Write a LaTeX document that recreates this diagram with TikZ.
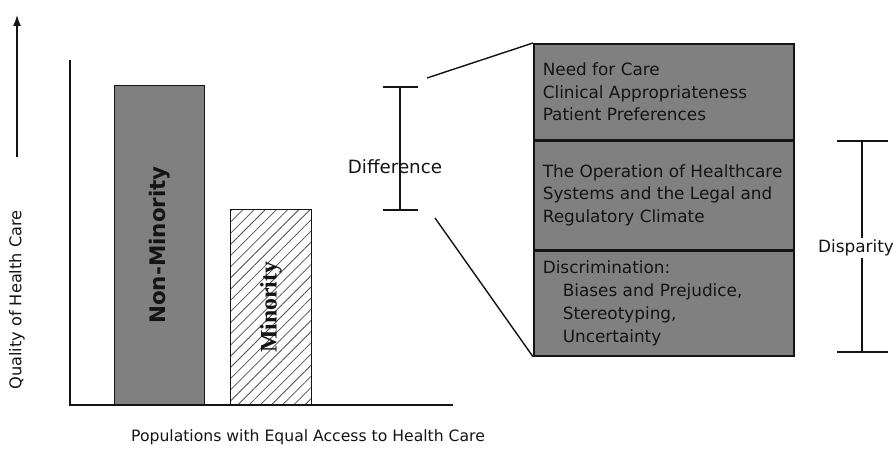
\documentclass[tikz,border=0pt]{standalone}
\usepackage{fontspec}
\setmainfont{DejaVu Sans}
\newfontfamily\barserif{Liberation Serif}
\usetikzlibrary{positioning,arrows.meta,patterns.meta}
\definecolor{hcgray}{HTML}{808080}
\definecolor{hcink}{HTML}{141414}
\tikzset{
  axis/.style   ={draw=hcink, line width=0.9pt},
  bar/.style    ={draw=hcink, line width=0.7pt, anchor=south west, inner sep=0pt},
  barlabel/.style={rotate=90, text=hcink, font=\bfseries\fontsize{12.2}{12}\selectfont},
  cause/.style  ={draw=hcink, fill=hcgray, line width=0.9pt, anchor=north west,
                  minimum width=5.2cm, text width=4.84cm, inner xsep=0.18cm,
                  inner ysep=0pt, align=flush left, text=hcink,
                  font=\fontsize{9.6}{13}\selectfont},
  brace/.style  ={draw=hcink, line width=0.8pt},
  lbl/.style    ={text=hcink, inner sep=1pt, font=\fontsize{9.2}{10}\selectfont},
}

\begin{document}
\begin{tikzpicture}[x=0.02cm, y=-0.02cm]
  \useasboundingbox (0,0) rectangle (896,475);

  % axes
  \draw[axis] (70,60) -- (70,405) -- (453,405);
  \coordinate (qtail) at (17,157);
  \coordinate (qhead) at (17,15);
  \draw[axis, -{Latex[length=2.2mm,width=1.6mm]}] (qtail) -- (qhead);
  \node[lbl, rotate=90] (ylab) at (17,300) {Quality of Health Care};
  \node[lbl, font=\fontsize{8.9}{10}\selectfont] (xlab) at (308,437) {Populations with Equal Access to Health Care};

  % the two bars
  \node[bar, fill=hcgray, minimum width=1.8cm, minimum height=6.38cm] (nonmin) at (114,405) {};
  \node[bar, pattern={Lines[angle=45,distance=4.5pt,line width=0.45pt]}, pattern color=hcink!75,
        minimum width=1.62cm, minimum height=3.9cm] (min) at (230,405) {};
  \node[barlabel] at (nonmin.center) {Non-Minority};
  \node[barlabel, font=\barserif\bfseries\fontsize{13.5}{13}\selectfont] at (min.center) {Minority};

  % difference bracket
  \coordinate (dtop) at (400,87);
  \coordinate (dbot) at (400,210);
  \draw[brace] (dtop) -- (dbot);
  \draw[brace] ([xshift=-0.34cm]dtop) -- ([xshift=0.36cm]dtop);
  \draw[brace] ([xshift=-0.34cm]dbot) -- ([xshift=0.36cm]dbot);
  \node[lbl, font=\fontsize{10.4}{11}\selectfont] (diff) at (395,167) {Difference};

  % sources of the difference
  \node[cause, minimum height=1.92cm] (need) at (533,43)
    {Need for Care\\Clinical Appropriateness\\Patient Preferences};
  \node[cause, minimum height=2.16cm, below=0pt of need.south west, anchor=north west] (system)
    {The Operation of Healthcare\\Systems and the Legal and\\Regulatory Climate};
  \node[cause, minimum height=2.1cm, below=0pt of system.south west, anchor=north west] (discr)
    {Discrimination:\\\hspace*{0.4cm}Biases and Prejudice,\\\hspace*{0.4cm}Stereotyping,\\\hspace*{0.4cm}Uncertainty};

  % zoom lines
  \coordinate (ztop) at (427,78);
  \coordinate (zbot) at (435,218);
  \draw[brace] (ztop) -- (need.north west);
  \draw[brace] (zbot) -- (discr.south west);

  % disparity bracket
  \coordinate (ptop) at (862,141);
  \coordinate (pbot) at (862,352);
  \node[lbl, font=\fontsize{9.6}{11}\selectfont] (disp) at (856,248) {Disparity};
  \draw[brace] (ptop) -- (ptop |- disp.north);
  \draw[brace] (pbot |- disp.south) -- (pbot);
  \draw[brace] ([xshift=-0.5cm]ptop) -- ([xshift=0.52cm]ptop);
  \draw[brace] ([xshift=-0.5cm]pbot) -- ([xshift=0.52cm]pbot);
\end{tikzpicture}
\end{document}
